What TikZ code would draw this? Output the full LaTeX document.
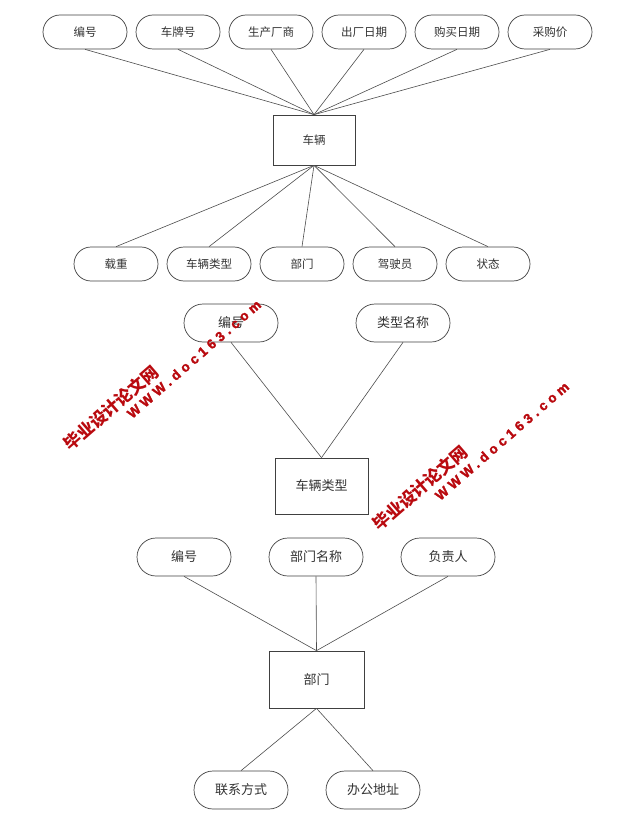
\documentclass[tikz,border=0pt]{standalone}
\usepackage{fontspec}
\newfontfamily\cjk{Noto Sans CJK SC}
\newfontfamily\cjkbold{Noto Sans CJK SC Black}
\newfontfamily\wmfont{Liberation Sans Bold}[LetterSpace=30,FakeBold=2]
\usetikzlibrary{calc}
\definecolor{wmred}{RGB}{185,10,15}
\tikzset{
  attr/.style={draw=black!75, fill=white, line width=0.7pt, rectangle, rounded corners=17pt,
    minimum width=84pt, minimum height=34pt, inner sep=0pt, font=\cjk\fontsize{11.5}{12}\selectfont, text=black!80},
  attrb/.style={attr, minimum width=94pt, minimum height=38pt, rounded corners=19pt, font=\cjk\fontsize{13}{14}\selectfont},
  ent/.style={draw=black!75, fill=white, line width=0.7pt, rectangle, inner sep=0pt, font=\cjk\fontsize{11.5}{12}\selectfont, text=black!80},
  entb/.style={ent, font=\cjk\fontsize{13}{14}\selectfont},
  link/.style={draw=black!70, line width=0.6pt},
  wmcn/.style={text=wmred, font=\cjk\bfseries\fontsize{17}{18}\selectfont, rotate=41, inner sep=0pt},
  wmen/.style={text=wmred, font=\wmfont\fontsize{13.5}{14}\selectfont, rotate=41, inner sep=0pt}
}
\begin{document}
\begin{tikzpicture}[x=1pt,y=-1pt]
\useasboundingbox (0,0) rectangle (633,837);
% vehicle
\node[ent, minimum width=82pt, minimum height=50pt] (car) at (314,140) {车辆};
\node[attr] (a1) at (85,32) {编号};
\node[attr] (a2) at (178,32) {车牌号};
\node[attr] (a3) at (271,32) {生产厂商};
\node[attr] (a4) at (364,32) {出厂日期};
\node[attr] (a5) at (457,32) {购买日期};
\node[attr] (a6) at (550,32) {采购价};
\foreach \n in {a1,a2,a3,a4,a5,a6} \draw[link] (\n.south) -- (car.north);
\node[attr] (b1) at (116,264) {载重};
\node[attr] (b2) at (209,264) {车辆类型};
\node[attr] (b3) at (302,264) {部门};
\node[attr] (b4) at (395,264) {驾驶员};
\node[attr] (b5) at (488,264) {状态};
\foreach \n in {b1,b2,b3,b4,b5} \draw[link] (\n.north) -- (car.south);
% vehicle type
\node[entb, minimum width=93pt, minimum height=56pt] (vt) at (321.5,486) {车辆类型};
\node[attrb] (c1) at (231,323) {编号};
\node[attrb] (c2) at (403,323) {类型名称};
\foreach \n in {c1,c2} \draw[link] (\n.south) -- (vt.north);
% department
\node[entb, minimum width=95pt, minimum height=57pt] (dep) at (316.5,679.5) {部门};
\node[attrb] (d1) at (184,557) {编号};
\node[attrb] (d2) at (316,557) {部门名称};
\node[attrb] (d3) at (448,557) {负责人};
\foreach \n in {d1,d2,d3} \draw[link] (\n.south) -- (dep.north);
\node[attrb] (e1) at (241,790) {联系方式};
\node[attrb] (e2) at (373,790) {办公地址};
\foreach \n in {e1,e2} \draw[link] (\n.north) -- (dep.south);
% watermarks
\node[wmcn] (w1) at (111,408) {毕业设计论文网};
\node[wmen] (w2) at (194,359) {WWW.doc163.com};
\node[wmcn] (w3) at (420,488) {毕业设计论文网};
\node[wmen] (w4) at (502,441) {WWW.doc163.com};
\end{tikzpicture}
\end{document}
